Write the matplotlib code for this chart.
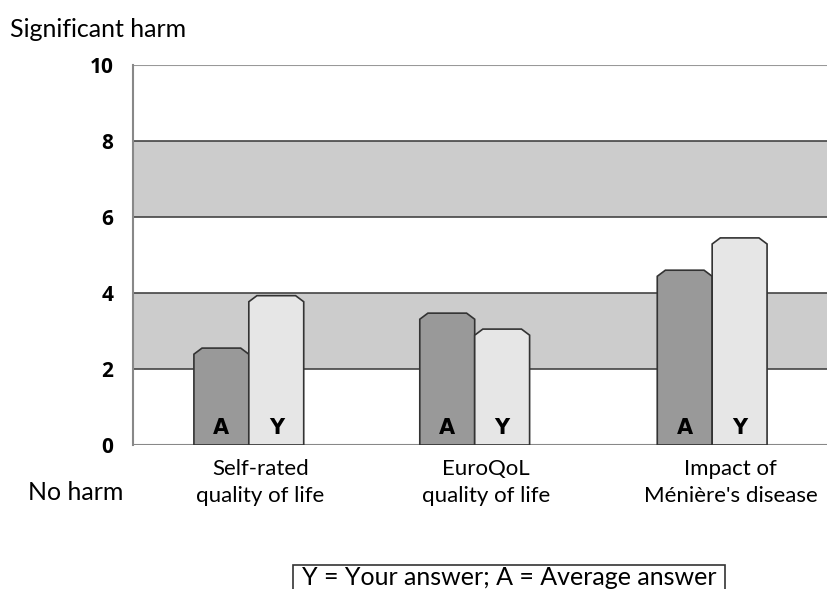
import matplotlib.pyplot as plt
from matplotlib.patches import Polygon, Rectangle

# 数据
categories = ['Self-rated\nquality of life', 'EuroQoL\nquality of life', "Impact of\nMénière's disease"]
average_answer = [2.55, 3.47, 4.6]
your_answer = [3.93, 3.05, 5.45]
yticks = [0, 2, 4, 6, 8, 10]
bands = [(2, 4), (6, 8)]

plt.rcParams['font.family'] = ['Lato', 'DejaVu Sans']

fig = plt.figure(figsize=(8.28, 5.89), dpi=100)
ax = fig.add_axes([0.1606, 0.2445, 0.8394, 0.6451])

x = [0, 0.975, 2]
w = 0.237

# 灰色区域
for lo, hi in bands:
    ax.axhspan(lo, hi, color='#cccccc', zorder=0, lw=0)
for t in yticks[1:-1]:
    ax.axhline(t, color='#444444', lw=1.2, zorder=1)
ax.axhline(10, color='#999999', lw=1.5, zorder=1)
ax.axhline(0, color='#888888', lw=1.5, zorder=1)

bars_a = ax.bar([i - w / 2 for i in x], average_answer, w, color='#999999')
bars_y = ax.bar([i + w / 2 for i in x], your_answer, w, color='#e6e6e6')

# 斜角柱顶
cx, cy = 0.035, 0.16
for bars, fc in [(bars_a, '#999999'), (bars_y, '#e6e6e6')]:
    for r in bars:
        x0, y0, bw, bh = r.get_x(), r.get_y(), r.get_width(), r.get_height()
        r.set_visible(False)
        pts = [(x0, y0), (x0, y0 + bh - cy), (x0 + cx, y0 + bh), (x0 + bw - cx, y0 + bh),
               (x0 + bw, y0 + bh - cy), (x0 + bw, y0)]
        ax.add_patch(Polygon(pts, closed=True, facecolor=fc, edgecolor='#333333', lw=1.2, zorder=3))

for i in x:
    ax.text(i - w / 2, 0.45, 'A', ha='center', va='center', fontsize=15, fontweight='bold',
            family='DejaVu Sans', zorder=4)
    ax.text(i + w / 2, 0.45, 'Y', ha='center', va='center', fontsize=15, fontweight='bold',
            family='DejaVu Sans', zorder=4)

ax.set_xlim(-0.5, 2.5)
ax.set_ylim(0, 10)
ax.set_yticks(yticks)
ax.set_yticklabels([str(t) for t in yticks], fontweight='bold', fontsize=15, family='Open Sans')
ax.tick_params(axis='y', length=0, pad=14)
ax.set_xticks([0.05, 0.975 + 0.05, 2.08])
ax.set_xticklabels(categories, fontsize=16, linespacing=1.45)
ax.tick_params(axis='x', length=0, pad=10)
for s in ['top', 'right', 'bottom']:
    ax.spines[s].set_visible(False)
ax.spines['left'].set_color('#888888')
ax.spines['left'].set_linewidth(1.5)

fig.text(0.012, 0.95, 'Significant harm', fontsize=18, va='center')
fig.text(0.034, 0.163, 'No harm', fontsize=18, va='center')

fig.patches.append(Rectangle((0.354, -0.05), 0.522, 0.0907, transform=fig.transFigure,
                             facecolor='white', edgecolor='#333333', lw=1.2))
fig.text(0.615, 0.019, 'Y = Your answer; A = Average answer', fontsize=18, ha='center', va='center')

plt.savefig('out.png', dpi=100)
